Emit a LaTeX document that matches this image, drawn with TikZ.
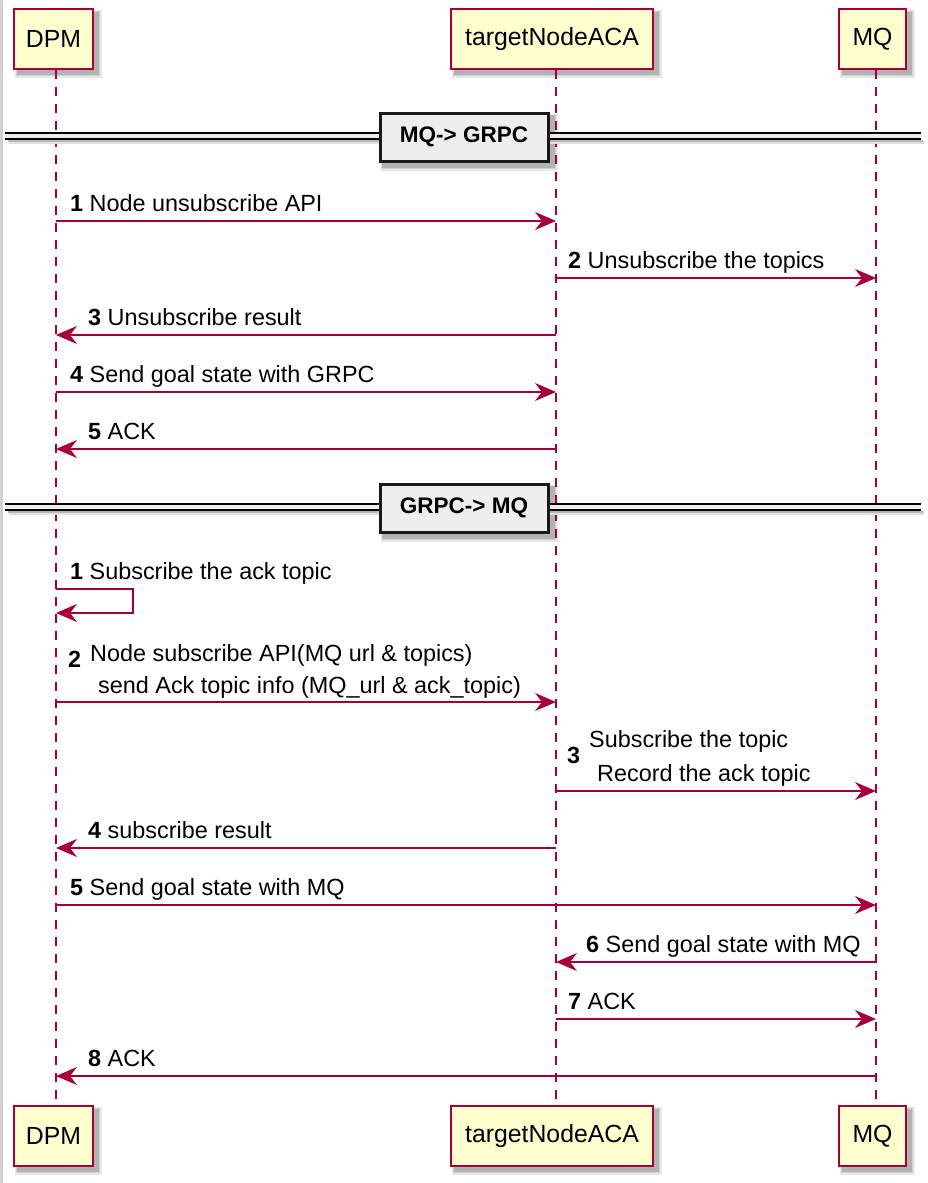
\documentclass[tikz,border=0pt]{standalone}
\usepackage{fontspec}
\setmainfont{Liberation Sans}
\usetikzlibrary{arrows.meta}

\definecolor{umlred}{HTML}{A80036}
\definecolor{umlfill}{HTML}{FEFECE}
\definecolor{divfill}{HTML}{EEEEEE}

\pgfdeclarelayer{shadowlayer}
\pgfsetlayers{shadowlayer,main}

\begin{document}
\begin{tikzpicture}[x=1pt,y=-1pt,
  actor/.style={draw=umlred, line width=1.8pt, fill=umlfill, minimum height=60pt,
      inner sep=0pt, font=\fontsize{24.8}{28}\selectfont},
  lifeline/.style={draw=umlred, line width=1.1pt, dash pattern=on 9pt off 8pt},
  msg/.style={draw=umlred, line width=1.2pt,
      -{Stealth[length=21pt, width=18pt, inset=7pt]}},
  lbl/.style={anchor=base west, inner sep=0pt, font=\fontsize{23.4}{28}\selectfont},
  divbox/.style={draw=black!90, line width=3pt, fill=divfill, minimum width=168pt,
      minimum height=48pt, inner sep=0pt, font=\bfseries\fontsize{22.5}{26}\selectfont},
  divline/.style={draw=black, line width=1.4pt}]

\useasboundingbox (0,0) rectangle (927,1183);
\begin{pgfonlayer}{shadowlayer}
  \fill[white] (0,0) rectangle (927,1183);
  \fill[black!18] (0,0) rectangle (3,1183);
\end{pgfonlayer}

% lifeline axes
\coordinate (dpmL) at (56,0);
\coordinate (acaL) at (556,0);
\coordinate (mqL) at (876,0);

% participants, top and bottom
\node[actor, minimum width=79pt]  (dpmT) at (53.5,39) {DPM};
\node[actor, minimum width=202pt] (acaT) at (552,39) {targetNodeACA};
\node[actor, minimum width=67pt]  (mqT)  at (872.5,39) {MQ};
\node[actor, minimum width=79pt]  (dpmB) at (53.5,1136) {DPM};
\node[actor, minimum width=202pt] (acaB) at (552,1136) {targetNodeACA};
\node[actor, minimum width=67pt]  (mqB)  at (872.5,1136) {MQ};

\draw[lifeline] (dpmT.south -| dpmL) -- (dpmB.north -| dpmL);
\draw[lifeline] (acaT.south -| acaL) -- (acaB.north -| acaL);
\draw[lifeline] (mqT.south -| mqL) -- (mqB.north -| mqL);

% section dividers
\foreach \y in {133,504}{
  \fill[black!12] (9,\y+7) rectangle (924,\y+11);
  \fill[black!28] (8,\y+7) rectangle (923,\y+9);
  \fill[divfill] (5,\y) rectangle (921,\y+6);
  \draw[divline] (5,\y) -- (921,\y);
  \draw[divline] (5,\y+6) -- (921,\y+6);
}
\node[divbox] (div1) at (464,137) {MQ-> GRPC};
\node[divbox] (div2) at (464,508) {GRPC-> MQ};

% soft drop shadows under every box
\begin{pgfonlayer}{shadowlayer}
  \foreach \n in {dpmT,acaT,mqT,dpmB,acaB,mqB,div1,div2}{
    \fill[black!9]  ([shift={(2,2)}]\n.north west) rectangle ([shift={(8,8)}]\n.south east);
    \fill[black!18] ([shift={(3,3)}]\n.north west) rectangle ([shift={(6.5,6.5)}]\n.south east);
    \fill[black!30] ([shift={(3.5,3.5)}]\n.north west) rectangle ([shift={(5,5)}]\n.south east);
  }
\end{pgfonlayer}

% first section
\draw[msg] (dpmL |- 0,221) -- (acaL |- 0,221);
\node[lbl] (m1) at (70,211) {\textbf{1} Node unsubscribe API};
\draw[msg] (acaL |- 0,278) -- (mqL |- 0,278);
\node[lbl] (m2) at (568,268) {\textbf{2} Unsubscribe the topics};
\draw[msg] (acaL |- 0,335) -- (dpmL |- 0,335);
\node[lbl] (m3) at (88,325) {\textbf{3} Unsubscribe result};
\draw[msg] (dpmL |- 0,392) -- (acaL |- 0,392);
\node[lbl] (m4) at (70,382) {\textbf{4} Send goal state with GRPC};
\draw[msg] (acaL |- 0,449) -- (dpmL |- 0,449);
\node[lbl] (m5) at (88,439) {\textbf{5} ACK};

% second section
\draw[msg] (dpmL |- 0,589) -- ++(77,0) -- ++(0,24) -- (dpmL |- 0,613);
\node[lbl] (n1) at (70,579) {\textbf{1} Subscribe the ack topic};

\draw[msg] (dpmL |- 0,702) -- (acaL |- 0,702);
\node[lbl] (n2) at (68,667) {\textbf{2}};
\node[lbl] (n2a) at (90,661) {Node subscribe API(MQ url \& topics)};
\node[lbl] (n2b) at (98,693) {send Ack topic info (MQ\_url \& ack\_topic)};

\draw[msg] (acaL |- 0,791) -- (mqL |- 0,791);
\node[lbl] (n3) at (567,763) {\textbf{3}};
\node[lbl] (n3a) at (589,747) {Subscribe the topic};
\node[lbl] (n3b) at (597,781) {Record the ack topic};

\draw[msg] (acaL |- 0,848) -- (dpmL |- 0,848);
\node[lbl] (n4) at (88,838) {\textbf{4} subscribe result};
\draw[msg] (dpmL |- 0,905) -- (mqL |- 0,905);
\node[lbl] (n5) at (70,895) {\textbf{5} Send goal state with MQ};
\draw[msg] (mqL |- 0,962) -- (acaL |- 0,962);
\node[lbl] (n6) at (586,952) {\textbf{6} Send goal state with MQ};
\draw[msg] (acaL |- 0,1019) -- (mqL |- 0,1019);
\node[lbl] (n7) at (568,1009) {\textbf{7} ACK};
\draw[msg] (mqL |- 0,1076) -- (dpmL |- 0,1076);
\node[lbl] (n8) at (88,1066) {\textbf{8} ACK};

\end{tikzpicture}
\end{document}
